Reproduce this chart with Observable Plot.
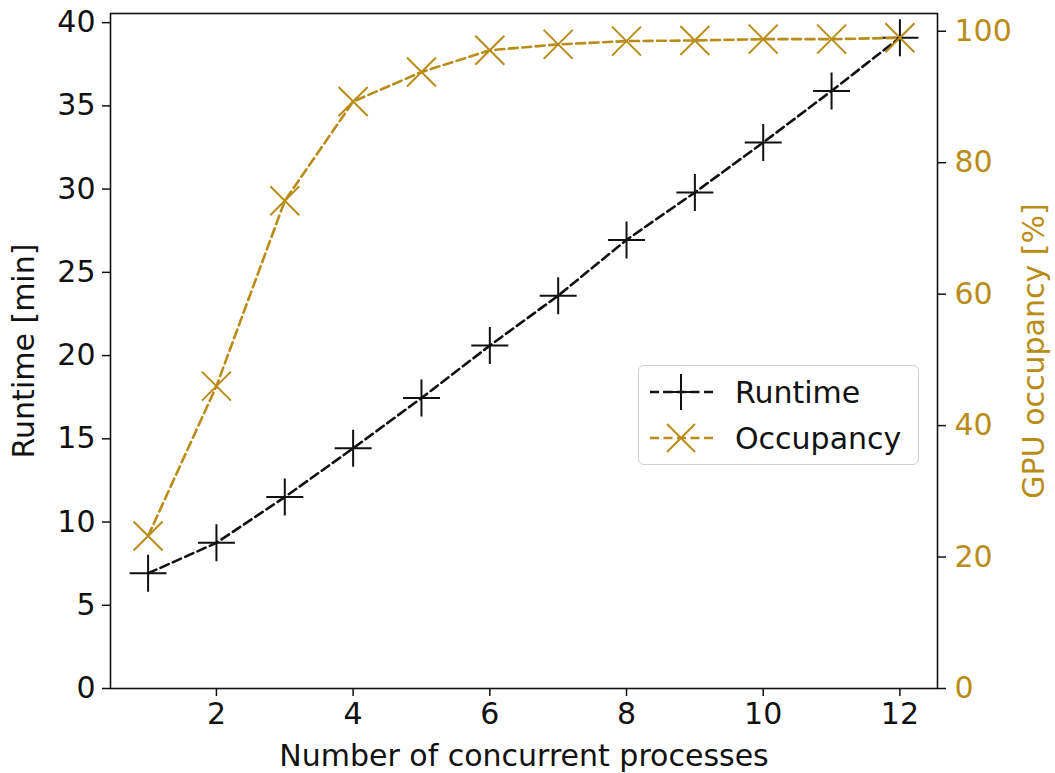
<!DOCTYPE html>
<html>
<head>
<meta charset="utf-8">
<script src="https://cdn.jsdelivr.net/npm/d3@7"></script>
<script src="https://cdn.jsdelivr.net/npm/@observablehq/plot@0.6"></script>
<style>
  html, body { margin: 0; padding: 0; background: #fff; }
  #chart { position: relative; width: 1055px; height: 773px; font-family: "DejaVu Sans", sans-serif; }
  #legend {
    position: absolute; left: 638px; top: 365px; width: 281px; height: 100px;
    border: 1px solid #d0d0d0; border-radius: 6px; background: rgba(255,255,255,0.85);
    box-sizing: border-box;
  }
  .row { position: absolute; left: 10px; height: 40px; display: flex; align-items: center; }
  .row span { font-size: 30px; color: #111; margin-left: 20px; }
</style>
</head>
<body>
<div id="chart"></div>
<script>
// Number of concurrent processes
const processes = [1, 2, 3, 4, 5, 6, 7, 8, 9, 10, 11, 12];
// Runtime in minutes (left axis)
const runtime = [6.92, 8.75, 11.5, 14.43, 17.45, 20.6, 23.6, 26.95, 29.8, 32.8, 35.9, 39.1];
// GPU occupancy in percent (right axis)
const occupancy = [23.2, 46.0, 74.2, 89.3, 93.8, 97.1, 98.0, 98.5, 98.6, 98.8, 98.8, 99.0];

const xTicks = [2, 4, 6, 8, 10, 12];
const runtimeTicks = [0, 5, 10, 15, 20, 25, 30, 35, 40];
const occupancyTicks = [0, 20, 40, 60, 80, 100];

const GOLD = "#b98c18";
const RUNTIME_MAX = 40.55;     // top of the left scale
const OCCUPANCY_MAX = 102.7;   // top of the right scale

// The occupancy series shares the plot's y scale: convert % into left-axis units.
const toLeft = v => v * RUNTIME_MAX / OCCUPANCY_MAX;
const fromLeft = v => v * OCCUPANCY_MAX / RUNTIME_MAX;

// Stroke-only symbols whose half-length equals the dot radius.
const plusSymbol = {
  draw(ctx, size) {
    const r = Math.sqrt(size / Math.PI);
    ctx.moveTo(-r, 0); ctx.lineTo(r, 0);
    ctx.moveTo(0, -r); ctx.lineTo(0, r);
  }
};
const timesSymbol = {
  draw(ctx, size) {
    const r = Math.sqrt(size / Math.PI);
    ctx.moveTo(-r, -r); ctx.lineTo(r, r);
    ctx.moveTo(-r, r); ctx.lineTo(r, -r);
  }
};

const runtimeData = processes.map((p, i) => ({p, v: runtime[i]}));
const occupancyData = processes.map((p, i) => ({p, v: toLeft(occupancy[i])}));

const chart = Plot.plot({
  width: 1055,
  height: 773,
  marginLeft: 110,
  marginRight: 118,
  marginTop: 13,
  marginBottom: 85,
  style: {fontFamily: "DejaVu Sans", fontSize: "30px", background: "transparent", color: "#111"},
  x: {domain: [0.45, 12.55]},
  y: {domain: [0, RUNTIME_MAX]},
  marks: [
    Plot.axisX({ticks: xTicks, tickSize: 8, tickPadding: 6, strokeWidth: 1.5,
      label: "Number of concurrent processes", labelAnchor: "center", labelOffset: 77, labelArrow: "none"}),
    Plot.axisY({ticks: runtimeTicks, tickSize: 8, tickPadding: 7, strokeWidth: 1.5,
      label: "Runtime [min]", labelAnchor: "center", labelOffset: 98, labelArrow: "none"}),
    Plot.axisY({anchor: "right", ticks: occupancyTicks.map(toLeft),
      tickFormat: d => String(Math.round(fromLeft(d))),
      tickSize: 8, tickPadding: 9, strokeWidth: 1.5, stroke: "#111", fill: GOLD,
      label: "GPU occupancy [%]", labelAnchor: "center", labelOffset: 106, labelArrow: "none"}),
    Plot.frame({stroke: "#111", strokeWidth: 1.6}),
    Plot.line(runtimeData, {x: "p", y: "v", stroke: "#111", strokeWidth: 2.6, strokeDasharray: "9,4.5"}),
    Plot.dot(runtimeData, {x: "p", y: "v", symbol: plusSymbol, r: 18.5, stroke: "#111", strokeWidth: 2}),
    Plot.line(occupancyData, {x: "p", y: "v", stroke: GOLD, strokeWidth: 2.6, strokeDasharray: "9,4.5"}),
    Plot.dot(occupancyData, {x: "p", y: "v", symbol: timesSymbol, r: 14.5, stroke: GOLD, strokeWidth: 2})
  ]
});

const host = document.getElementById("chart");
host.appendChild(chart);

// Legend for the two series
const legend = document.createElement("div");
legend.id = "legend";
const sample = (color, sym) => {
  const marker = sym === "plus"
    ? `<path d="M14,20H50M32,2V38" stroke="${color}" stroke-width="2" fill="none"/>`
    : `<path d="M18,6L46,34M18,34L46,6" stroke="${color}" stroke-width="2" fill="none"/>`;
  return `<svg width="66" height="40"><line x1="1" y1="20" x2="66" y2="20" stroke="${color}" stroke-width="2.6" stroke-dasharray="9,4.5"/>${marker}</svg>`;
};
legend.innerHTML =
  `<div class="row" style="top:6px">${sample("#111", "plus")}<span>Runtime</span></div>` +
  `<div class="row" style="top:52px">${sample(GOLD, "times")}<span>Occupancy</span></div>`;
host.appendChild(legend);
</script>
</body>
</html>
